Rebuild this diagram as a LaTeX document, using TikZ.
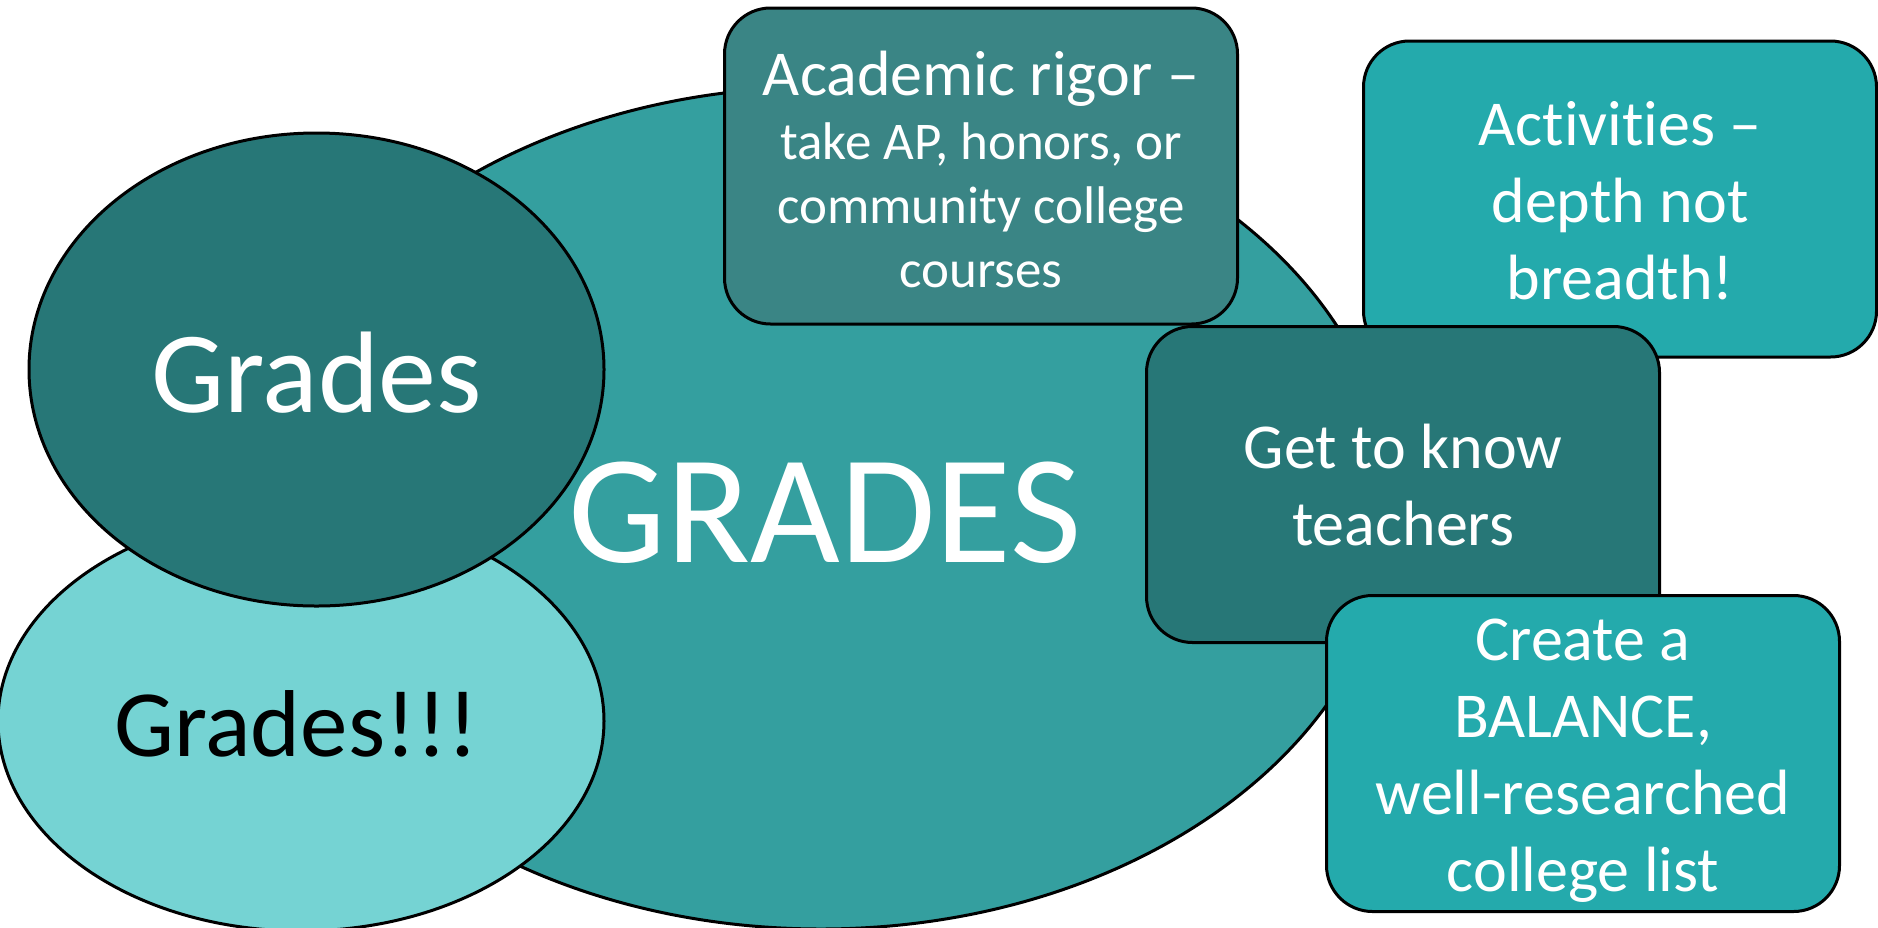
\documentclass[tikz,border=0pt]{standalone}
\usepackage{fontspec}
\setmainfont{Carlito}[Ligatures=NoCommon]
\usetikzlibrary{shapes.geometric}
\definecolor{bigc}{HTML}{349F9F}
\definecolor{darkc}{HTML}{277777}
\definecolor{lightc}{HTML}{75D3D3}
\definecolor{acadc}{HTML}{3A8585}
\definecolor{brightc}{HTML}{24AAAC}
\begin{document}
\begin{tikzpicture}[x=1pt,y=-1pt, line width=3pt,
  oval/.style={ellipse, draw=black, inner sep=0pt},
  card/.style={draw=black, rounded corners=46pt, minimum width=513pt, minimum height=316pt, inner sep=0pt},
  lbl/.style={anchor=base, inner sep=0pt, align=center},
  boxtext/.style={lbl, text=white, font=\fontsize{64}{77}\selectfont}]
\useasboundingbox (0,0) rectangle (1878,927);
\node[oval, fill=bigc, minimum width=1144pt, minimum height=842pt] (big) at (821,508) {};
\node[oval, fill=lightc, minimum width=606pt, minimum height=420pt] (light) at (301,721) {};
\node[oval, fill=darkc, minimum width=575pt, minimum height=473pt] (dark) at (316.5,369.5) {};
\node[lbl, text=white, font=\fontsize{155}{155}\selectfont] (bigT) at (825,562) {GRADES};
\node[lbl, text=white, font=\fontsize{116}{116}\selectfont] (darkT) at (316.5,412) {Grades};
\node[lbl, text=black, font=\fontsize{95}{95}\selectfont] (lightT) at (296,756) {Grades!!!};
\node[card, fill=acadc] (acad) at (981,166) {};
\node[card, fill=brightc] (act) at (1620,199) {};
\node[card, fill=darkc] (know) at (1403,484.5) {};
\node[card, fill=brightc] (bal) at (1583,753.5) {};
\node[lbl, text=white, font=\fontsize{53}{64}\selectfont] (acadT) at (981,287) {{\fontsize{64}{64}\selectfont Academic rigor –}\\take AP, honors, or\\community college\\courses};
\node[boxtext] (actT) at (1620,299) {Activities –\\depth not\\breadth!};
\node[boxtext] (knowT) at (1403,545) {Get to know\\teachers};
\node[boxtext] (balT) at (1583,891) {Create a\\BALANCE,\\well-researched\\college list};
\end{tikzpicture}
\end{document}
